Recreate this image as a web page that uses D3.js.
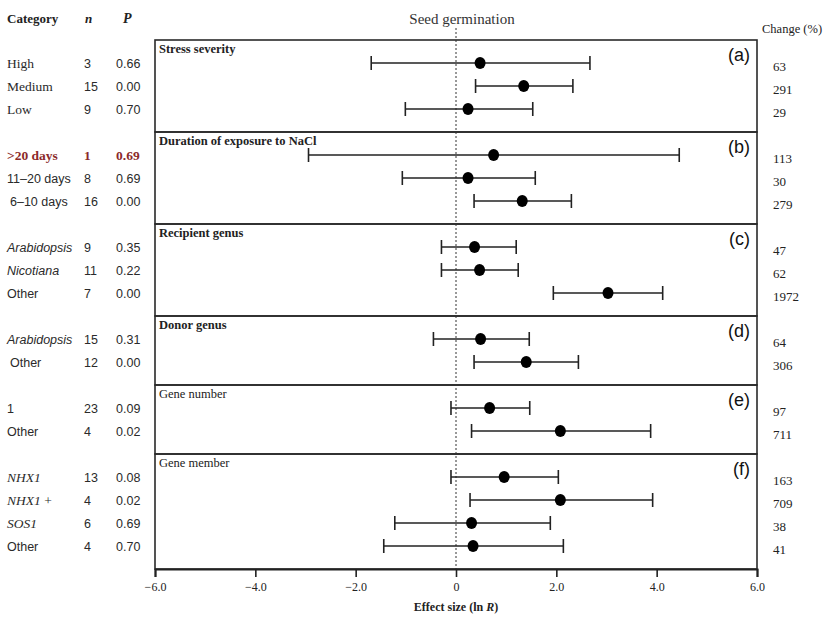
<!DOCTYPE html>
<html>
<head>
<meta charset="utf-8">
<script src="https://cdn.jsdelivr.net/npm/d3@7"></script>
<style>
  body { margin: 0; background: #fff; }
  svg { display: block; }
</style>
</head>
<body>
<div id="wrapper"></div>
<script>
// panels of the forest plot
const groups = ["Stress severity", "Duration of exposure to NaCl", "Recipient genus",
    "Donor  genus", "Gene number", "Gene member"];
const groupLetters = ["(a)", "(b)", "(c)", "(d)", "(e)", "(f)"];

// one entry per row
const groupOf = [0, 0, 0, 1, 1, 1, 2, 2, 2, 3, 3, 4, 4, 5, 5, 5, 5];
const categories = ["High", "Medium", "Low", ">20 days", "11\u201320 days", " 6\u201310 days",
    "Arabidopsis", "Nicotiana", "Other", "Arabidopsis", " Other", "1", "Other",
    "NHX1", "NHX1 +", "SOS1", "Other"];
const nValues = [3, 15, 9, 1, 8, 16, 9, 11, 7, 15, 12, 23, 4, 13, 4, 6, 4];
const pValues = ["0.66", "0.00", "0.70", "0.69", "0.69", "0.00", "0.35", "0.22", "0.00",
    "0.31", "0.00", "0.09", "0.02", "0.08", "0.02", "0.69", "0.70"];
const effect = [0.48, 1.35, 0.24, 0.75, 0.24, 1.32, 0.37, 0.47, 3.03, 0.49, 1.40, 0.67, 2.08,
    0.96, 2.08, 0.31, 0.34];
const lower = [-1.69, 0.39, -1.01, -2.94, -1.07, 0.36, -0.29, -0.29, 1.94, -0.45, 0.36, -0.10, 0.31,
    -0.10, 0.28, -1.22, -1.44];
const upper = [2.67, 2.33, 1.53, 4.45, 1.58, 2.30, 1.20, 1.24, 4.12, 1.46, 2.44, 1.47, 3.88,
    2.04, 3.92, 1.88, 2.14];
const change = [63, 291, 29, 113, 30, 279, 47, 62, 1972, 64, 306, 97, 711, 163, 709, 38, 41];
const xTicks = [-6, -4, -2, 0, 2, 4, 6];

const highlightRow = 3;
const italicNames = ["Arabidopsis", "Nicotiana", "NHX1", "SOS1"];
const serifNames = ["High", "Medium", "Low", ">20 days", "NHX1", "NHX1 +", "SOS1"];

const dim = {
    width: 830, height: 617,
    left: 155, right: 757, top: 40, bottom: 569
};
const serif = "'Liberation Serif', 'Times New Roman', serif";
const sans = "'Liberation Sans', Arial, sans-serif";

const svg = d3.select("#wrapper").append("svg")
    .attr("width", dim.width)
    .attr("height", dim.height);

// slot layout: every panel gets one empty slot for its title
const counts = groups.map((g, i) => groupOf.filter(k => k === i).length);
const panelStart = [];
let acc = 0;
counts.forEach(c => { panelStart.push(acc); acc += c + 1; });
const rowSlot = groupOf.map((g, i) => panelStart[g] + 1 + groupOf.slice(0, i).filter(k => k === g).length);

const xScale = d3.scaleLinear().domain([-6, 6]).range([dim.left, dim.right]);
const yScale = d3.scaleLinear().domain([0, acc]).range([dim.top, dim.bottom]);

// headers
const head = svg.append("g").style("font-family", serif).attr("fill", "#222");
head.append("text").attr("x", 7).attr("y", 23).style("font-size", "13px").style("font-weight", "bold").text("Category");
head.append("text").attr("x", 85).attr("y", 23).style("font-size", "13px").style("font-weight", "bold").style("font-style", "italic").text("n");
head.append("text").attr("x", 123).attr("y", 23).style("font-size", "14px").style("font-weight", "bold").style("font-style", "italic").text("P");
svg.append("text").attr("x", 462).attr("y", 24).attr("text-anchor", "middle")
    .style("font-family", serif).style("font-size", "15px").attr("fill", "#333").text("Seed germination");
svg.append("text").attr("x", 762).attr("y", 33)
    .style("font-family", serif).style("font-size", "12.5px").attr("fill", "#222").text("Change (%)");

// panels
const panels = svg.append("g");
groups.forEach((g, i) => {
    const y0 = yScale(panelStart[i]), y1 = yScale(panelStart[i] + counts[i] + 1);
    panels.append("rect")
        .attr("x", dim.left).attr("y", y0)
        .attr("width", dim.right - dim.left).attr("height", y1 - y0)
        .attr("fill", "none").attr("stroke", "#2a2a2a").attr("stroke-width", 1.6);
    panels.append("text")
        .attr("x", dim.left + 4).attr("y", y0 + 13)
        .style("font-family", serif).style("font-size", "12.5px")
        .style("font-weight", i < 4 ? "bold" : "normal")
        .attr("fill", "#222").text(g);
    panels.append("text")
        .attr("x", dim.right - 7).attr("y", y0 + 21).attr("text-anchor", "end")
        .style("font-family", sans).style("font-size", "18px")
        .attr("fill", "#111").text(groupLetters[i]);
});

// zero reference line
svg.append("line")
    .attr("x1", xScale(0)).attr("x2", xScale(0))
    .attr("y1", 28).attr("y2", dim.bottom)
    .attr("stroke", "#333").attr("stroke-width", 1).attr("stroke-dasharray", "2,2");

// x axis
const xAxis = d3.axisBottom(xScale)
    .tickValues(xTicks)
    .tickSize(8)
    .tickPadding(5)
    .tickFormat(d => d === 0 ? "0" : d3.format(".1f")(d).replace("-", "\u2212"));
const axisG = svg.append("g").attr("transform", `translate(0,${dim.bottom})`).call(xAxis);
axisG.select(".domain").attr("stroke", "#222").attr("stroke-width", 2);
axisG.selectAll(".tick line").attr("stroke", "#222").attr("stroke-width", 1.6);
axisG.selectAll(".tick text").style("font-family", serif).style("font-size", "12px").attr("fill", "#222");

const xLabel = svg.append("text").attr("x", 456).attr("y", 611).attr("text-anchor", "middle")
    .style("font-family", serif).style("font-size", "12px").style("font-weight", "bold").attr("fill", "#222");
xLabel.append("tspan").text("Effect size (ln ");
xLabel.append("tspan").style("font-style", "italic").text("R");
xLabel.append("tspan").text(")");

// rows
const rows = svg.append("g").selectAll("g")
    .data(categories.map((c, i) => i))
    .join("g")
    .attr("transform", i => `translate(0,${yScale(rowSlot[i])})`);

rows.append("line")
    .attr("x1", i => xScale(lower[i])).attr("x2", i => xScale(upper[i]))
    .attr("stroke", "#222").attr("stroke-width", 1.6);
rows.append("line")
    .attr("x1", i => xScale(lower[i])).attr("x2", i => xScale(lower[i]))
    .attr("y1", -7).attr("y2", 7)
    .attr("stroke", "#222").attr("stroke-width", 1.6);
rows.append("line")
    .attr("x1", i => xScale(upper[i])).attr("x2", i => xScale(upper[i]))
    .attr("y1", -7).attr("y2", 7)
    .attr("stroke", "#222").attr("stroke-width", 1.6);
rows.append("ellipse")
    .attr("cx", i => xScale(effect[i]))
    .attr("rx", 5.5).attr("ry", 6)
    .attr("fill", "#000");

// left table and change column
rows.each(function (i) {
    const g = d3.select(this);
    const red = i === highlightRow;
    const col = red ? "#8b2a2a" : "#2a2a2a";
    const name = categories[i].trim();
    const isSerif = serifNames.includes(name);
    const lab = g.append("text")
        .attr("x", categories[i].startsWith(" ") ? 10 : 7).attr("y", 5)
        .style("font-family", isSerif ? serif : sans)
        .style("font-size", isSerif ? "13.5px" : "12.5px")
        .style("font-weight", red ? "bold" : "normal")
        .attr("fill", col);
    const base = name.replace(" +", "");
    lab.append("tspan").style("font-style", italicNames.includes(base) ? "italic" : "normal").text(base);
    if (name.endsWith("+")) lab.append("tspan").text(" +");

    g.append("text").attr("x", 84).attr("y", 5)
        .style("font-family", red ? serif : sans).style("font-size", red ? "13.5px" : "12.5px")
        .style("font-weight", red ? "bold" : "normal")
        .attr("fill", col).text(nValues[i]);
    g.append("text").attr("x", 116).attr("y", 5)
        .style("font-family", red ? serif : sans).style("font-size", red ? "13.5px" : "12.5px")
        .style("font-weight", red ? "bold" : "normal")
        .attr("fill", col).text(pValues[i]);
    g.append("text").attr("x", 773).attr("y", 8)
        .style("font-family", serif).style("font-size", "13px")
        .attr("fill", "#222").text(change[i]);
});
</script>
</body>
</html>
